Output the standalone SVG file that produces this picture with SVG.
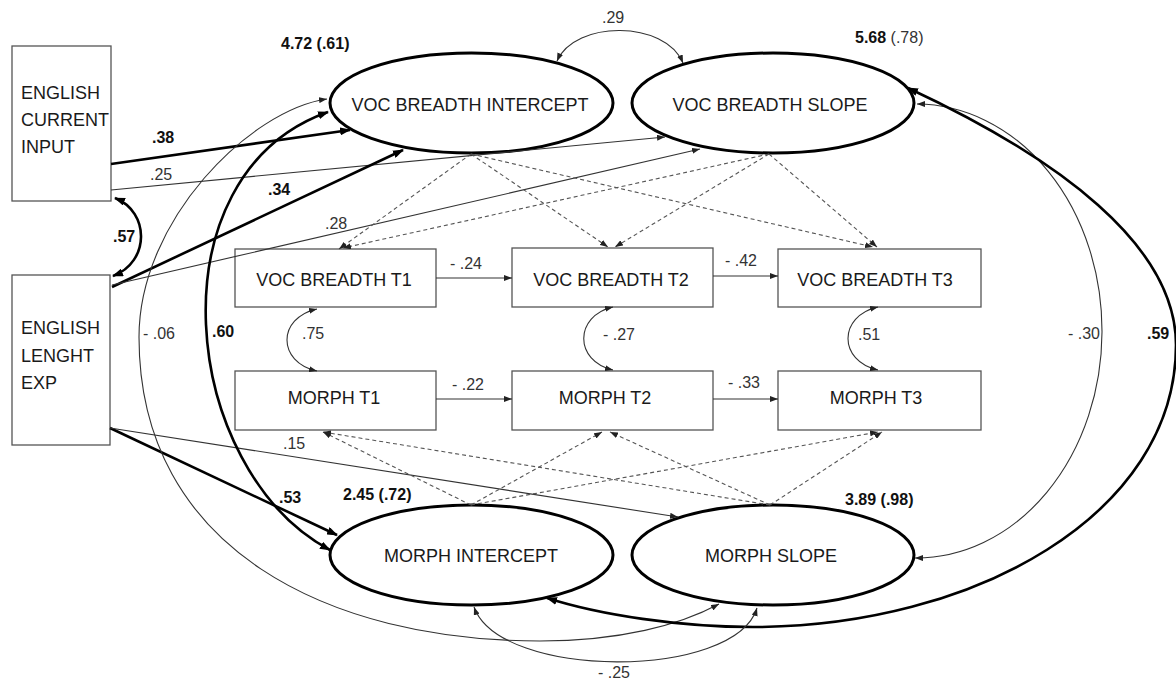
<svg xmlns="http://www.w3.org/2000/svg" width="1176" height="681" viewBox="0 0 1176 681">
<style>
.box{fill:#fff;stroke:#555;stroke-width:1.3}
.lat{fill:#fff;stroke:#000;stroke-width:3}
.t{font-family:"Liberation Sans",Arial,sans-serif;font-size:18px;fill:#1a1a1a}
.c{text-anchor:middle}
.n{font-family:"Liberation Sans",Arial,sans-serif;font-size:16px;fill:#333}
.b{font-weight:bold;fill:#111}
.thin{fill:none;stroke:#333;stroke-width:1.1;marker-end:url(#a)}
.thick{fill:none;stroke:#000;stroke-width:2.6;marker-end:url(#A)}
.dash{fill:none;stroke:#555;stroke-width:1.1;stroke-dasharray:4 3;marker-end:url(#a)}
.dbl{marker-start:url(#a)}
.dblA{marker-start:url(#A)}
</style>
<defs>
<marker id="a" viewBox="0 0 8 6" refX="8" refY="3" markerWidth="8" markerHeight="6" orient="auto-start-reverse" markerUnits="userSpaceOnUse"><path d="M0,0L8,3L0,6z" fill="#222"/></marker>
<marker id="A" viewBox="0 0 11 8" refX="10" refY="4" markerWidth="11" markerHeight="8" orient="auto-start-reverse" markerUnits="userSpaceOnUse"><path d="M0,0L11,4L0,8z" fill="#000"/></marker>
</defs>
<rect width="1176" height="681" fill="#fff"/>

<g id="english-current-input">
<rect class="box" x="12" y="46" width="99" height="155"/>
<text class="t" x="21" y="99">ENGLISH</text>
<text class="t" x="21" y="126">CURRENT</text>
<text class="t" x="21" y="153">INPUT</text>
</g>
<g id="english-lenght-exp">
<rect class="box" x="12" y="275" width="98" height="170"/>
<text class="t" x="21" y="334">ENGLISH</text>
<text class="t" x="21" y="362">LENGHT</text>
<text class="t" x="21" y="389">EXP</text>
</g>
<g id="voc-breadth-intercept">
<ellipse class="lat" cx="471.5" cy="103" rx="141.5" ry="50"/>
<text class="t c" x="470" y="111">VOC BREADTH INTERCEPT</text>
</g>
<g id="voc-breadth-slope">
<ellipse class="lat" cx="773" cy="103" rx="141" ry="50"/>
<text class="t c" x="770" y="111">VOC BREADTH SLOPE</text>
</g>
<g id="morph-intercept">
<ellipse class="lat" cx="471.5" cy="555" rx="141.5" ry="50"/>
<text class="t c" x="471" y="562">MORPH INTERCEPT</text>
</g>
<g id="morph-slope">
<ellipse class="lat" cx="773" cy="555" rx="141" ry="50"/>
<text class="t c" x="771" y="562">MORPH SLOPE</text>
</g>
<g id="voc-breadth-t1">
<rect class="box" x="235" y="249" width="201" height="58"/>
<text class="t c" x="334" y="286">VOC BREADTH T1</text>
</g>
<g id="voc-breadth-t2">
<rect class="box" x="512" y="248" width="201" height="59"/>
<text class="t c" x="611" y="286">VOC BREADTH T2</text>
</g>
<g id="voc-breadth-t3">
<rect class="box" x="778" y="249" width="203" height="58"/>
<text class="t c" x="875" y="286">VOC BREADTH T3</text>
</g>
<g id="morph-t1">
<rect class="box" x="235" y="371" width="201" height="59"/>
<text class="t c" x="334" y="404">MORPH T1</text>
</g>
<g id="morph-t2">
<rect class="box" x="512" y="371" width="201" height="59"/>
<text class="t c" x="605" y="404">MORPH T2</text>
</g>
<g id="morph-t3">
<rect class="box" x="778" y="371" width="203" height="59"/>
<text class="t c" x="876" y="404">MORPH T3</text>
</g>

<g id="connectors">
<!-- predictors -->
<path class="thick" d="M111,164L350,130"/>
<path class="thin" d="M111,190L665,137"/>
<path class="thick" d="M112,287L403,150"/>
<path class="thin" d="M112,285L700,149"/>
<path class="thick" d="M110,428L337,535"/>
<path class="thin" d="M110,428L678,517"/>
<!-- covariances -->
<path class="thick dblA" d="M115,198C150,212 150,262 113,276"/>
<path class="thin dbl" d="M557,61C575,20 665,20 683,63"/>
<path class="thick dblA" d="M328,112C150,175 180,470 330,550"/>
<path class="thin dbl" d="M327,99C250,110 139,220 139,337C139,550 330,641 540,641C620,641 680,625 719,604"/>
<path class="thin dbl" d="M917,104A186,227 0 0 1 915,558"/>
<path class="thick dblA" d="M908,88C1058,158 1176,245 1176,345C1176,515 973,627 753,627C680,627 600,615 547,598"/>
<path class="thin dbl" d="M474,607C500,680 735,680 757,608"/>
<path class="thin dbl" d="M317,309C277,318 277,362 317,371"/>
<path class="thin dbl" d="M613,307C574,316 574,361 613,370"/>
<path class="thin dbl" d="M878,307C838,316 838,361 878,370"/>
<!-- autoregressive -->
<path class="thin" d="M436,278L512,278"/>
<path class="thin" d="M713,276L778,276"/>
<path class="thin" d="M436,399L512,399"/>
<path class="thin" d="M713,399L778,399"/>
<!-- loadings -->
<path class="dash" d="M471,154L339,249"/>
<path class="dash" d="M471,154L608,247"/>
<path class="dash" d="M471,154L873,247"/>
<path class="dash" d="M769,154L343,248"/>
<path class="dash" d="M769,154L615,247"/>
<path class="dash" d="M769,154L877,247"/>
<path class="dash" d="M471,505L323,432"/>
<path class="dash" d="M471,505L602,432"/>
<path class="dash" d="M471,505L878,432"/>
<path class="dash" d="M770,505L323,432"/>
<path class="dash" d="M770,505L610,432"/>
<path class="dash" d="M770,505L882,432"/>
</g>

<g id="labels">
<text class="n b" x="152" y="143">.38</text>
<text class="n" x="150" y="180">.25</text>
<text class="n b" x="268" y="195">.34</text>
<text class="n" x="325" y="229">.28</text>
<text class="n b" x="113" y="242">.57</text>
<text class="n b" x="279" y="503">.53</text>
<text class="n" x="283" y="449">.15</text>
<text class="n" x="143" y="339">- .06</text>
<text class="n b" x="212" y="337">.60</text>
<text class="n" x="302" y="339">.75</text>
<text class="n" x="603" y="340">- .27</text>
<text class="n" x="858" y="340">.51</text>
<text class="n" x="1068" y="339">- .30</text>
<text class="n b" x="1147" y="339">.59</text>
<text class="n" x="450" y="269">- .24</text>
<text class="n" x="725" y="266">- .42</text>
<text class="n" x="452" y="390">- .22</text>
<text class="n" x="728" y="388">- .33</text>
<text class="n" x="602" y="23">.29</text>
<text class="n" x="598" y="678">- .25</text>
<text class="n b" x="281" y="49">4.72 (.61)</text>
<text class="n" x="855" y="43"><tspan class="b">5.68</tspan> (.78)</text>
<text class="n b" x="343" y="500">2.45 (.72)</text>
<text class="n b" x="845" y="505">3.89 (.98)</text>
</g>
</svg>
